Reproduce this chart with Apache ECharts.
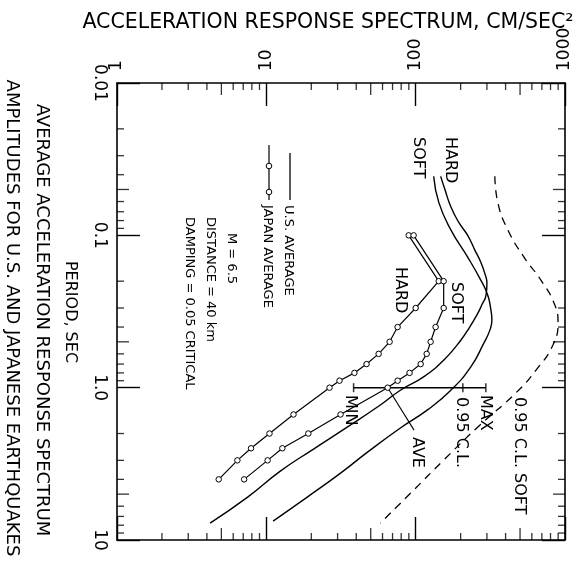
<!DOCTYPE html>
<html><head><meta charset="utf-8">
<script src="https://cdn.jsdelivr.net/npm/echarts@6/dist/echarts.min.js"></script>
<style>html,body{margin:0;padding:0;background:#fff}#c{width:576px;height:581px}</style>
</head><body><div id="c"></div>
<script>
// ---- tick labels ----
const accTicks = [1, 10, 100, 1000];
const accTickLabels = ['1', '10', '100', '1000'];
const periodTicks = [0.01, 0.1, 1, 10];
const periodTickLabels = ['0.01', '0.1', '1.0', '10'];
const accMinor = [2,3,4,5,6,7,8,9,20,30,40,50,60,70,80,90,200,300,400,500,600,700,800,900];
const periodMinor = [0.02,0.03,0.04,0.05,0.06,0.07,0.08,0.09,0.2,0.3,0.4,0.5,0.6,0.7,0.8,0.9,2,3,4,5,6,7,8,9];

// ---- U.S. average, hard site (period s, acceleration cm/s^2) ----
const usHardPeriod = [0.041, 0.050, 0.065, 0.082, 0.10, 0.125, 0.15, 0.177, 0.206, 0.247, 0.287, 0.324, 0.40, 0.49, 0.66, 0.85, 1.04, 1.30, 1.81, 2.53, 3.53, 5.23, 7.74];
const usHardAcc    = [147, 157, 172, 194, 223, 249, 273, 290, 300, 296, 277, 261, 230, 200, 154, 113, 79, 58, 35, 20.7, 12.4, 7.5, 4.2];
// ---- U.S. average, soft site ----
const usSoftPeriod = [0.041, 0.061, 0.092, 0.139, 0.197, 0.247, 0.309, 0.36, 0.419, 0.51, 0.73, 1.04, 1.40, 1.84, 2.65, 3.64, 5.23, 7.51];
const usSoftAcc    = [132, 143, 172, 223, 273, 304, 319, 324, 314, 286, 234, 172, 120, 79, 47.6, 31.4, 18.8, 11.1];
// ---- 0.95 confidence level, soft ----
const clSoftPeriod = [0.041, 0.061, 0.092, 0.139, 0.197, 0.278, 0.371, 0.525, 0.766, 1.08, 1.81, 2.99, 4.92, 7.74];
const clSoftAcc    = [339, 355, 414, 531, 690, 844, 898, 830, 640, 470, 261, 154, 92.6, 58];
// ---- Japan average ----
const japanPeriod  = [0.1, 0.2, 0.3, 0.4, 0.5, 0.6, 0.7, 0.8, 0.9, 1.0, 1.5, 2.0, 2.5, 3.0, 4.0];
const japanHardAcc = [89.8, 142.7, 100, 75.7, 66.9, 56.5, 46.9, 38.9, 30.9, 26.5, 15.2, 10.5, 7.9, 6.4, 4.8];
const japanSoftAcc = [96.9, 154, 154, 136, 126, 118.5, 108, 91, 75.7, 64.9, 31.4, 19.1, 12.8, 10.2, 7.1];
// ---- range bar at T = 1.0 s ----
const barPeriod = 1.0;
const barMin = 38.4, barCL = 207, barMax = 295, barAve = 65;
const avePointerEnd = [97.5, 1.9];

const FONT = 'DejaVu Sans';
function pairs(a, t) { return a.map((v, i) => [v, t[i]]); }
function lookup(v, ticks, labels) {
  for (let i = 0; i < ticks.length; i++) if (Math.abs(Math.log10(v) - Math.log10(ticks[i])) < 1e-6) return labels[i];
  return '';
}
const black = '#000';
const curve = (name, data, extra) => Object.assign({
  name, type: 'line', data, smooth: 0.5, showSymbol: false, symbol: 'none',
  lineStyle: { color: black, width: 1.4 }, clip: false, z: 3, silent: true
}, extra || {});
function minorLen(v) { const d = Math.round(v / Math.pow(10, Math.floor(Math.log10(v) + 1e-9))); return d === 5 ? 12 : 7; }
const tickSeries = [];
tickSeries.push({ type: 'scatter', silent: true, clip: false, symbol: 'rect', itemStyle: { color: black }, z: 5,
  data: accMinor.map(a => ({ value: [a, periodTicks[0]], symbolSize: [1.3, minorLen(a)], symbolOffset: [0, minorLen(a) / 2] })) });
tickSeries.push({ type: 'scatter', silent: true, clip: false, symbol: 'rect', itemStyle: { color: black }, z: 5,
  data: accMinor.map(a => ({ value: [a, periodTicks[3]], symbolSize: [1.3, minorLen(a)], symbolOffset: [0, -minorLen(a) / 2] })) });
tickSeries.push({ type: 'scatter', silent: true, clip: false, symbol: 'rect', itemStyle: { color: black }, z: 5,
  data: periodMinor.map(t => ({ value: [accTicks[0], t], symbolSize: [minorLen(t), 1.3], symbolOffset: [minorLen(t) / 2, 0] })) });
tickSeries.push({ type: 'scatter', silent: true, clip: false, symbol: 'rect', itemStyle: { color: black }, z: 5,
  data: periodMinor.map(t => ({ value: [accTicks[3], t], symbolSize: [minorLen(t), 1.3], symbolOffset: [-minorLen(t) / 2, 0] })) });

const axisCommon = {
  type: 'log', logBase: 10, splitLine: { show: false },
  axisLine: { show: true, lineStyle: { color: black, width: 1.6 } },
  axisTick: { show: true, inside: true, length: 23, lineStyle: { color: black, width: 1.4 } },
  minorTick: { show: false }
};
function txt(text, x, y, size, align) {
  return { type: 'text', x, y, rotation: -Math.PI / 2, silent: true, z: 20,
    style: { text, font: size + 'px "' + FONT + '"', fill: black, align: align || 'left', verticalAlign: 'middle' } };
}
const jpStyle = { smooth: false, showSymbol: true, symbol: 'circle', symbolSize: 5.5,
  itemStyle: { color: '#fff', borderColor: black, borderWidth: 1 }, lineStyle: { color: black, width: 1.2 } };

const chart = echarts.init(document.getElementById('c'), null, { renderer: 'canvas' });
chart.setOption({
  animation: false,
  backgroundColor: '#fff',
  grid: { left: 117, right: 11, top: 83, bottom: 41 },
  xAxis: [
    Object.assign({}, axisCommon, { position: 'top', min: 1, max: 1000, splitNumber: 3,
      axisLabel: { rotate: -90, margin: 12, color: black, fontSize: 17, fontFamily: FONT,
        formatter: v => lookup(v, accTicks, accTickLabels) } }),
    Object.assign({}, axisCommon, { position: 'bottom', min: 1, max: 1000, splitNumber: 3, axisLabel: { show: false } })
  ],
  yAxis: [
    Object.assign({}, axisCommon, { position: 'left', min: 0.01, max: 10, inverse: true, splitNumber: 3,
      axisLabel: { rotate: -90, margin: 9, color: black, fontSize: 17, fontFamily: FONT,
        formatter: v => lookup(v, periodTicks, periodTickLabels) } }),
    Object.assign({}, axisCommon, { position: 'right', min: 0.01, max: 10, inverse: true, splitNumber: 3, axisLabel: { show: false } })
  ],
  series: [
    curve('U.S. hard', pairs(usHardAcc, usHardPeriod)),
    curve('U.S. soft', pairs(usSoftAcc, usSoftPeriod)),
    curve('0.95 C.L. soft', pairs(clSoftAcc, clSoftPeriod), { lineStyle: { color: black, width: 1.3, type: [8, 6] } }),
    curve('Japan hard', pairs(japanHardAcc, japanPeriod), jpStyle),
    curve('Japan soft', pairs(japanSoftAcc, japanPeriod), jpStyle),
    curve('range', [[barMin, barPeriod], [barMax, barPeriod]], { smooth: false, lineStyle: { color: black, width: 1.5 } }),
    curve('ave pointer', [[barAve, barPeriod], avePointerEnd], { smooth: false, lineStyle: { color: black, width: 1.1 } }),
    { type: 'scatter', silent: true, clip: false, symbol: 'rect', itemStyle: { color: black }, z: 5, symbolSize: [1.5, 9],
      data: [[barMin, barPeriod], [barCL, barPeriod], [barMax, barPeriod]] }
  ].concat(tickSeries),
  graphic: [
    { type: 'text', x: 328, y: 23, silent: true,
      style: { text: 'ACCELERATION RESPONSE SPECTRUM, CM/SEC²', font: '20.5px "' + FONT + '"', fill: black, align: 'center', verticalAlign: 'middle' } },
    txt('PERIOD, SEC', 70, 312, 16, 'center'),
    txt('AVERAGE ACCELERATION RESPONSE SPECTRUM', 42, 320, 18, 'center'),
    txt('AMPLITUDES FOR U.S. AND JAPANESE EARTHQUAKES', 12, 318, 18, 'center'),
    { type: 'line', silent: true, shape: { x1: 290, y1: 153, x2: 290, y2: 200 }, style: { stroke: black, lineWidth: 1.3 } },
    { type: 'line', silent: true, shape: { x1: 269, y1: 145, x2: 269, y2: 200 }, style: { stroke: black, lineWidth: 1.2 } },
    { type: 'circle', silent: true, shape: { cx: 269, cy: 166, r: 2.8 }, style: { fill: '#fff', stroke: black, lineWidth: 1 }, z: 10 },
    { type: 'circle', silent: true, shape: { cx: 269, cy: 192, r: 2.8 }, style: { fill: '#fff', stroke: black, lineWidth: 1 }, z: 10 },
    txt('U.S. AVERAGE', 288, 205, 13),
    txt('JAPAN AVERAGE', 267, 205, 13),
    txt('M = 6.5', 231, 233, 13),
    txt('DISTANCE = 40 km', 210, 217, 13),
    txt('DAMPING = 0.05 CRITICAL', 189, 217, 13),
    txt('HARD', 450, 137, 16),
    txt('SOFT', 418, 137, 16),
    txt('SOFT', 456, 282, 16),
    txt('HARD', 400, 267, 16),
    txt('MIN', 350, 395, 16),
    txt('AVE', 417, 437, 16),
    txt('MAX', 485, 395, 16),
    txt('0.95 C.L.', 461, 397, 16),
    txt('0.95 C.L. SOFT', 519, 397, 16)
  ]
});
</script></body></html>
